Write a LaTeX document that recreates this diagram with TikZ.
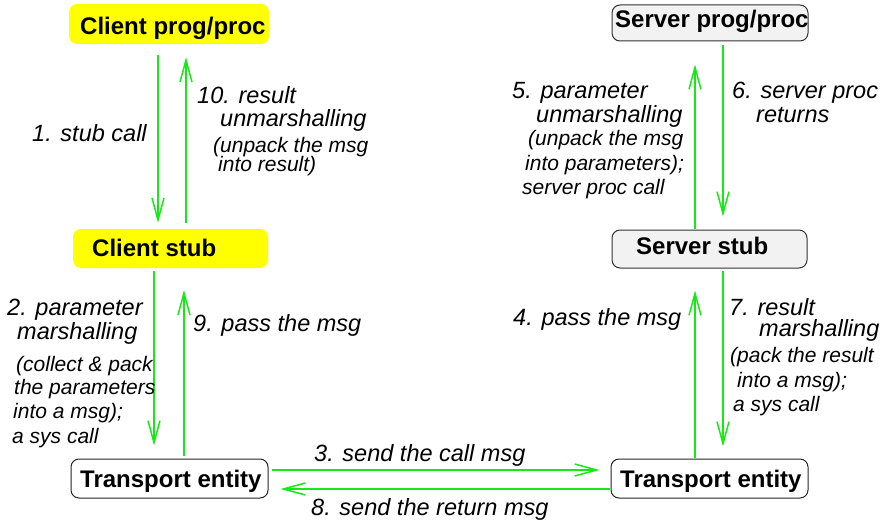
\documentclass[tikz,border=0pt]{standalone}
\usepackage{fontspec}
\setmainfont{Liberation Sans}
\usetikzlibrary{arrows.meta}
\definecolor{arrgreen}{RGB}{20,235,20}
\definecolor{boxyellow}{RGB}{255,255,0}
\definecolor{boxgray}{RGB}{242,242,242}
\tikzset{
  boxbase/.style={rounded corners=8pt, inner sep=0pt},
  ybox/.style={boxbase, fill=boxyellow, draw=none},
  gbox/.style={boxbase, fill=boxgray, draw=black!80, line width=1pt},
  wbox/.style={boxbase, fill=white, draw=black!85, line width=1pt},
  btext/.style={anchor=base west, inner sep=0pt, font=\fontsize{24}{28}\selectfont\bfseries},
  bigl/.style={anchor=base west, inner sep=0pt, font=\fontsize{23.5}{28}\selectfont\itshape},
  smalll/.style={anchor=base west, inner sep=0pt, font=\fontsize{21}{25}\selectfont\itshape},
  arr/.style={draw=arrgreen, line width=1.5pt, -{Straight Barb[length=22pt,width=12pt,line width=1.5pt]}}
}
\begin{document}
\begin{tikzpicture}[x=1pt,y=-1pt]
\useasboundingbox (0,0) rectangle (880,524);
% boxes
\node[ybox, minimum width=200pt, minimum height=40pt] (cpb) at (169,24) {};
\node[gbox, minimum width=196pt, minimum height=36pt] (spb) at (710,23) {};
\node[ybox, minimum width=195pt, minimum height=39pt] (csb) at (170.5,248.5) {};
\node[gbox, minimum width=195pt, minimum height=38pt] (ssb) at (709.5,249) {};
\node[wbox, minimum width=197pt, minimum height=39pt] (tlb) at (169.5,478.5) {};
\node[wbox, minimum width=197pt, minimum height=39pt] (trb) at (709.5,478.5) {};
% box texts
\node[btext] (cpt) at (80,35) {Client prog/proc};
\node[btext] (spt) at (615,28) {Server prog/proc};
\node[btext] (cst) at (92,256) {Client stub};
\node[btext] (sst) at (636,254) {Server stub};
\node[btext] (tlt) at (80,487) {Transport entity};
\node[btext] (trt) at (620,487) {Transport entity};
% arrows
\draw[arr] ([xshift=-11pt,yshift=-11pt]cpb.south) -- ([xshift=-12.5pt,yshift=6pt]csb.north);
\draw[arr] ([xshift=15.5pt,yshift=6pt]csb.north) -- ([xshift=17pt,yshift=-13pt]cpb.south);
\draw[arr] ([xshift=-16.5pt,yshift=-3pt]csb.south) -- ([xshift=-15.5pt,yshift=13pt]tlb.north);
\draw[arr] ([xshift=14.5pt,yshift=3pt]tlb.north) -- ([xshift=13.5pt,yshift=-22pt]csb.south);
\draw[arr] ([xshift=-14.5pt,yshift=1pt]ssb.north) -- ([xshift=-15pt,yshift=-23pt]spb.south);
\draw[arr] ([xshift=13pt,yshift=-4pt]spb.south) -- ([xshift=13.5pt,yshift=13pt]ssb.north);
\draw[arr] ([xshift=-14.5pt,yshift=1pt]trb.north) -- ([xshift=-14.5pt,yshift=-22pt]ssb.south);
\draw[arr] ([xshift=13.5pt,yshift=-2pt]ssb.south) -- ([xshift=13.5pt,yshift=12pt]trb.north);
\draw[arr] ([xshift=3pt,yshift=8.5pt]tlb.east) -- ([xshift=-11pt,yshift=8.5pt]trb.west);
\draw[arr] ([xshift=-1pt,yshift=-10.5pt]trb.west) -- ([xshift=12pt,yshift=-10.5pt]tlb.east);
% labels
\node[bigl] (l1) at (32,141) {1. stub call};
\node[bigl] (l10a) at (197,103) {10. result};
\node[bigl] (l10b) at (220,126) {unmarshalling};
\node[smalll] (l10c) at (213,152) {(unpack the msg};
\node[smalll] (l10d) at (218,171) {into result)};
\node[bigl] (l5a) at (512,99) {5. parameter};
\node[bigl] (l5b) at (536,122) {unmarshalling};
\node[smalll] (l5c) at (528,146) {(unpack the msg};
\node[smalll] (l5d) at (525,170) {into parameters);};
\node[smalll] (l5e) at (522,194) {server proc call};
\node[bigl] (l6a) at (732,99) {6. server proc};
\node[bigl] (l6b) at (756,122) {returns};
\node[bigl] (l2a) at (7,315) {2. parameter};
\node[bigl] (l2b) at (17,339) {marshalling};
\node[smalll] (l2c) at (16,371) {(collect \& pack};
\node[smalll] (l2d) at (14,394) {the parameters};
\node[smalll] (l2e) at (13,418) {into a msg);};
\node[smalll] (l2f) at (12,443) {a sys call};
\node[bigl] (l9) at (193,331) {9. pass the msg};
\node[bigl] (l4) at (513,325) {4. pass the msg};
\node[bigl] (l7a) at (729,315) {7. result};
\node[bigl] (l7b) at (759,336) {marshalling};
\node[smalll] (l7c) at (730,362) {(pack the result};
\node[smalll] (l7d) at (737,387) {into a msg);};
\node[smalll] (l7e) at (733,411) {a sys call};
\node[bigl] (l3) at (314,461) {3. send the call msg};
\node[bigl] (l8) at (311,515) {8. send the return msg};
\end{tikzpicture}
\end{document}
